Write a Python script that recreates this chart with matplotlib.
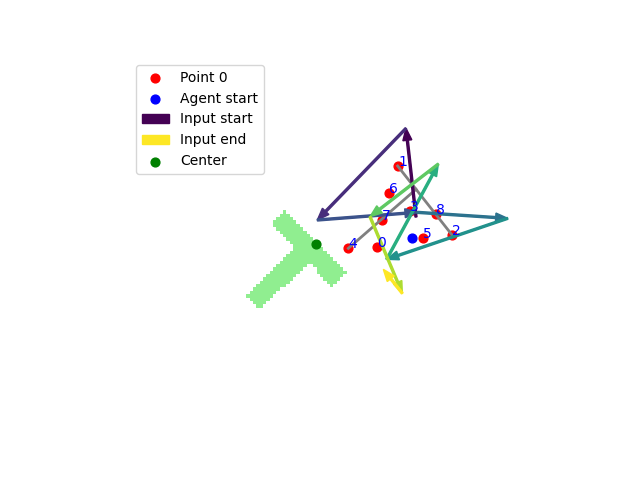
import matplotlib
matplotlib.use("Agg")
import matplotlib.pyplot as plt
import numpy as np
from matplotlib.colors import ListedColormap
from matplotlib.path import Path

# sampled points (numbered), agent start and shape center
points_x = [1.84, 2.46, 4.09, 2.82, 0.97, 3.22, 2.18, 1.97, 3.60]
points_y = [-0.09, 2.34, 0.26, 0.98, -0.13, 0.17, 1.54, 0.72, 0.89]
agent_start = (2.89, 0.18)
center = (0.0, 0.0)

# skeleton of the goal shape (gray lines)
bar_x = [2.45, 4.09]
bar_y = [2.34, 0.26]
stem_x = [3.00, 0.97]
stem_y = [1.64, -0.13]

# input trajectory vertices, one arrow between each consecutive pair
path_x = [3.00, 2.70, 0.04, 3.03, 5.75, 2.12, 3.67, 1.62, 2.59, 2.02]
path_y = [0.81, 3.47, 0.72, 0.95, 0.77, -0.46, 2.40, 0.82, -1.48, -0.76]

# T shaped block outline
t_x = [-0.92, 0.91, 0.47, -0.23, -1.68, -2.09, -0.65, -1.36]
t_y = [1.02, -0.88, -1.29, -0.56, -1.95, -1.52, -0.13, 0.61]
cell = 0.1

fig = plt.figure(figsize=(6.4, 4.8), dpi=100)
ax = fig.add_axes([0, 0, 1, 1])

# rasterise the block onto a grid
xe = np.arange(-2.5, 1.3 + cell / 2, cell)
ye = np.arange(-2.3, 1.4 + cell / 2, cell)
xc, yc = np.meshgrid((xe[:-1] + xe[1:]) / 2, (ye[:-1] + ye[1:]) / 2)
poly = Path(np.column_stack([t_x, t_y]))
inside = poly.contains_points(np.column_stack([xc.ravel(), yc.ravel()])).reshape(xc.shape)
ax.imshow(np.ma.masked_where(~inside, inside.astype(float)), origin="lower",
          extent=(xe[0], xe[-1], ye[0], ye[-1]), cmap=ListedColormap(["lightgreen"]),
          interpolation="nearest", zorder=0)

h_pt = ax.scatter(points_x[:1], points_y[:1], c="red", s=40, label="Point 0")
ax.scatter(points_x[1:], points_y[1:], c="red", s=40)
for i, (x, y) in enumerate(zip(points_x, points_y)):
    ax.text(x, y, str(i), color="blue", zorder=5)
h_agent = ax.scatter(*agent_start, c="blue", s=40, label="Agent start")

ax.plot(bar_x, bar_y, color="gray", lw=2)
ax.plot(stem_x, stem_y, color="gray", lw=2)

n = len(path_x) - 1
colors = plt.cm.viridis(np.linspace(0, 1, n))
arrows = []
for i in range(n):
    a = ax.arrow(path_x[i], path_y[i], path_x[i + 1] - path_x[i], path_y[i + 1] - path_y[i],
                 width=0.06, head_width=0.27, head_length=0.36,
                 length_includes_head=True, color=colors[i], zorder=3)
    arrows.append(a)

h_center = ax.scatter(*center, c="green", s=40, label="Center", zorder=4)

ax.legend([h_pt, h_agent, arrows[0], arrows[-1], h_center],
          ["Point 0", "Agent start", "Input start", "Input end", "Center"],
          loc="upper left", bbox_to_anchor=(136 / 640, 1 - 65 / 480),
          bbox_transform=fig.transFigure, borderaxespad=0)

ax.set_xlim(-316 * 0.03, 324 * 0.03)
ax.set_ylim(-236 * 0.03, 244 * 0.03)
ax.set_aspect("equal")
ax.axis("off")

plt.savefig("out.png")
